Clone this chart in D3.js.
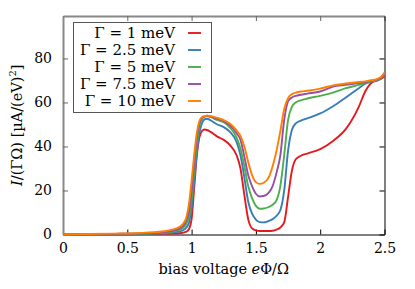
<!DOCTYPE html>
<html>
<head>
<meta charset="utf-8">
<script src="https://cdn.jsdelivr.net/npm/d3@7"></script>
<style>
  body { margin: 0; background: #fff; }
  svg { display: block; }
  svg text { font-family: "DejaVu Serif", "Liberation Serif", serif; fill: #000; }
</style>
</head>
<body>
<div id="chart"></div>
<script>
// bias voltage grid (e Phi / Omega)
const bias = [0, 0.2, 0.4, 0.6, 0.7, 0.8, 0.85, 0.9, 0.93, 0.96, 0.98, 1.0, 1.02, 1.04, 1.06, 1.08, 1.1, 1.12, 1.15, 1.2, 1.25, 1.3, 1.35, 1.38, 1.41, 1.44, 1.47, 1.5, 1.53, 1.56, 1.6, 1.63, 1.66, 1.69, 1.72, 1.75, 1.78, 1.81, 1.85, 1.9, 2.0, 2.1, 2.2, 2.3, 2.35, 2.4, 2.45, 2.48, 2.5];

// current I/(Gamma Omega) for each broadening
const gamma1 = [0, 0.05, 0.1, 0.15, 0.2, 0.3, 0.4, 0.6, 0.8, 1.3, 2.5, 7, 21, 35.5, 44, 47, 47.7, 47.5, 46.5, 44.5, 43, 40.5, 36, 30, 18, 7, 2.8, 1.9, 1.6, 1.6, 1.6, 1.7, 2.2, 3.2, 5.5, 17, 29, 34.2, 35.8, 36.8, 38.8, 42.5, 48, 58, 65, 69, 70.2, 71, 72];
const gamma25 = [0, 0.1, 0.2, 0.3, 0.4, 0.6, 0.9, 1.3, 1.8, 3.2, 5.5, 12, 24, 37, 46, 50.5, 52.3, 52.6, 51.8, 50, 48.8, 46.5, 42, 36, 26, 15, 9.5, 6.8, 5.6, 5.5, 6.2, 7, 8.5, 11, 20, 38, 47.5, 50.5, 51.8, 52.8, 55, 58.3, 62.3, 66.5, 68.5, 69.5, 70.2, 71.3, 72.8];
const gamma5 = [0, 0.1, 0.25, 0.4, 0.55, 0.9, 1.3, 2, 2.8, 5, 8, 16, 29, 41, 49, 52.5, 53.5, 53.8, 53.3, 52, 51, 48.5, 44, 39, 31, 22, 16.5, 13, 11.7, 11.8, 12.5, 13.5, 15.5, 22, 36, 52, 58, 60, 61, 61.8, 63, 64.5, 66.5, 68, 68.9, 69.6, 70.4, 71.6, 73];
const gamma75 = [0, 0.15, 0.3, 0.5, 0.75, 1.2, 1.7, 2.6, 3.7, 6.5, 10.5, 20, 33, 44, 50.5, 53, 53.7, 54, 53.6, 52.5, 51.5, 49.5, 46, 43, 35.5, 27, 22, 18.5, 17.3, 17.5, 19, 22, 28, 36, 52, 60.5, 62.3, 63, 63.5, 64, 65, 67.2, 68, 68.8, 69.3, 69.9, 70.6, 71.8, 73.3];
const gamma10 = [0, 0.2, 0.4, 0.7, 1, 1.6, 2.2, 3.3, 4.6, 8, 14, 24.5, 36, 46, 51.5, 53.3, 53.8, 54, 53.8, 53, 52, 50.3, 47.3, 44.8, 40, 33, 27, 23.8, 23, 23.5, 26, 31, 38, 47, 57, 62, 63.8, 64.5, 65, 65.3, 66.3, 67.8, 68.6, 69.3, 69.6, 70.1, 70.8, 72, 73.6];

const seriesNames = ["\u0393 = 1 meV", "\u0393 = 2.5 meV", "\u0393 = 5 meV", "\u0393 = 7.5 meV", "\u0393 = 10 meV"];
const seriesColors = ["#e41a1c", "#377eb8", "#4daf4a", "#984ea3", "#ff7f00"];
const seriesValues = [gamma1, gamma25, gamma5, gamma75, gamma10];

const xTicks = [0, 0.5, 1, 1.5, 2, 2.5];
const yTicks = [0, 20, 40, 60, 80];

const W = 415, H = 289;
const mLeft = 63, mRight = 384.5, mTop = 16, mBottom = 234.5;
const fs = 14;
const serif = '"DejaVu Serif", "Liberation Serif", serif';

const svg = d3.select("#chart").append("svg")
    .attr("width", W)
    .attr("height", H);

const x = d3.scaleLinear().domain([0, 2.5]).range([mLeft, mRight]);
const y = d3.scaleLinear().domain([0, 99.3]).range([mBottom, mTop]);

// axes, ticks point inward; left/top drawn softer like the reference
const gx = svg.append("g")
    .attr("transform", `translate(0,${mBottom})`)
    .call(d3.axisBottom(x).tickValues(xTicks).tickFormat(d => String(d))
        .tickSizeInner(-5).tickSizeOuter(0).tickPadding(9));
const gxt = svg.append("g")
    .attr("transform", `translate(0,${mTop})`)
    .call(d3.axisTop(x).tickValues(xTicks).tickFormat("")
        .tickSizeInner(-5).tickSizeOuter(0));
const gy = svg.append("g")
    .attr("transform", `translate(${mLeft},0)`)
    .call(d3.axisLeft(y).tickValues(yTicks).tickFormat(d => String(d))
        .tickSizeInner(-5).tickSizeOuter(0).tickPadding(11));
const gyr = svg.append("g")
    .attr("transform", `translate(${mRight},0)`)
    .call(d3.axisRight(y).tickValues(yTicks).tickFormat("")
        .tickSizeInner(-5).tickSizeOuter(0));

svg.selectAll("g").attr("font-family", serif);
svg.selectAll(".tick text")
    .attr("font-family", serif)
    .attr("font-size", fs);
svg.selectAll(".domain, .tick line").attr("stroke", "#000");
gy.select(".domain").attr("stroke", "#888").attr("stroke-width", 2);
gxt.select(".domain").attr("stroke", "#888").attr("stroke-width", 2);
gy.selectAll(".tick line").attr("stroke", "#666");
gxt.selectAll(".tick line").attr("stroke", "#666");

const line = d3.line()
    .x(d => x(d[0]))
    .y(d => y(d[1]))
    .curve(d3.curveMonotoneX);

seriesValues.forEach((vals, i) => {
    svg.append("path")
        .datum(bias.map((b, j) => [b, vals[j]]))
        .attr("fill", "none")
        .attr("stroke", seriesColors[i])
        .attr("stroke-width", 1.9)
        .attr("d", line);
});

// legend
const leg = svg.append("g").attr("font-family", serif);
leg.append("rect")
    .attr("x", 73.5).attr("y", 22.5)
    .attr("width", 138).attr("height", 90)
    .attr("fill", "#fff")
    .attr("stroke", "#555")
    .attr("stroke-width", 1);
seriesNames.forEach((name, i) => {
    const ly = 33 + i * 17;
    leg.append("line")
        .attr("x1", 188).attr("x2", 201)
        .attr("y1", ly).attr("y2", ly)
        .attr("stroke", seriesColors[i])
        .attr("stroke-width", 1.9);
    leg.append("text")
        .attr("x", 175).attr("y", ly + 5)
        .attr("text-anchor", "end")
        .attr("font-family", serif)
        .attr("font-size", 15)
        .text(name);
});

// axis labels
svg.append("text")
    .attr("x", (mLeft + mRight) / 2).attr("y", 274)
    .attr("text-anchor", "middle")
    .attr("font-family", serif)
    .attr("font-size", 14.5)
    .call(t => {
        t.append("tspan").text("bias voltage ");
        t.append("tspan").style("font-style", "italic").text("e");
        t.append("tspan").text("\u03a6/\u03a9");
    });

svg.append("text")
    .attr("transform", `translate(22,${(mTop + mBottom) / 2}) rotate(-90)`)
    .attr("text-anchor", "middle")
    .attr("font-family", serif)
    .attr("font-size", 14.5)
    .call(t => {
        t.append("tspan").style("font-style", "italic").text("I");
        t.append("tspan").text("/(\u0393\u03a9) [\u00b5A/(eV)");
        t.append("tspan").attr("dy", -6).attr("font-size", 10).text("2");
        t.append("tspan").attr("dy", 6).text("]");
    });
</script>
</body>
</html>
